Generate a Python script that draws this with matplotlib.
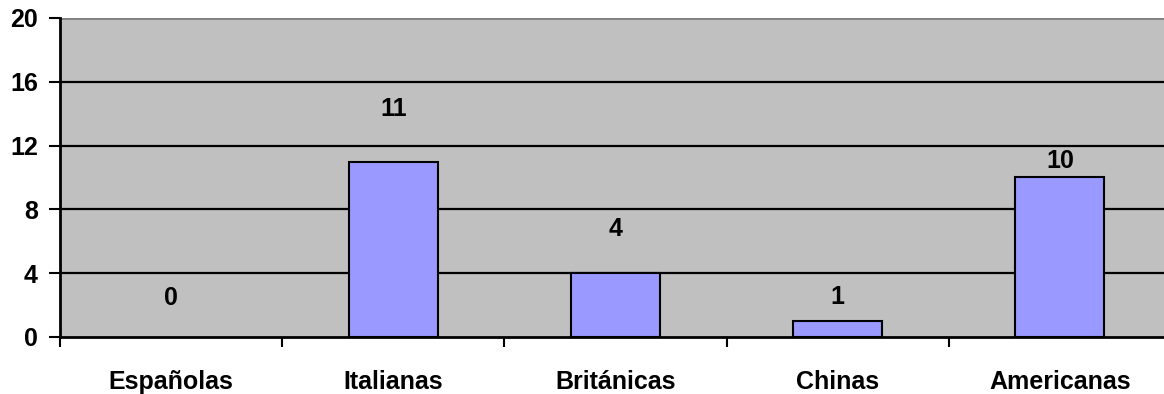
import matplotlib.pyplot as plt
import numpy as np

plt.rcParams['font.family'] = ['Liberation Sans', 'DejaVu Sans']
plt.rcParams['font.weight'] = 'bold'

categories = ['Españolas', 'Italianas', 'Británicas', 'Chinas', 'Americanas']
values = [0, 11, 4, 1, 10]
yticks = [0, 4, 8, 12, 16, 20]

# label offsets above bar top (points), mimics the original placement
label_offsets = [28, 38, 32, 17, 12]

fig = plt.figure(figsize=(11.64, 3.94), dpi=100)
ax = fig.add_axes([60/1164, 1 - 337/394, 1111/1164, (337-18)/394])
ax.set_facecolor('#C0C0C0')

x = np.arange(len(categories)) + 0.5
bars = ax.bar(x, values, width=0.4, color='#9999FF', edgecolor='black', linewidth=1.5, zorder=3)
for b, v in zip(bars, values):
    if v == 0:
        b.set_visible(False)

for xi, v, off in zip(x, values, label_offsets):
    ax.annotate(str(v), (xi, v), xytext=(0, off), textcoords='offset points',
                ha='center', va='center', fontsize=18, fontweight='bold')

ax.set_xlim(0, len(categories))
ax.set_ylim(0, 20)
ax.set_yticks(yticks)
ax.set_yticklabels([str(t) for t in yticks], fontsize=18, fontweight='bold')
for t in yticks[1:-1]:
    ax.axhline(t, color='black', linewidth=1.6, zorder=1)
ax.axhline(20, color='#808080', linewidth=2, zorder=1)

ax.set_xticks(np.arange(len(categories) + 1))
ax.set_xticklabels([])
ax.set_xticks(x, minor=True)
ax.set_xticklabels(categories, minor=True, fontsize=18, fontweight='bold')
ax.tick_params(axis='x', which='major', direction='out', length=7, width=1.5)
ax.tick_params(axis='x', which='minor', length=0, pad=24)
ax.tick_params(axis='y', direction='out', length=8, width=1.5, pad=8)

for s in ['top', 'right']:
    ax.spines[s].set_visible(False)
ax.spines['left'].set_linewidth(2)
ax.spines['bottom'].set_linewidth(2)

fig.savefig('out.png', dpi=100)
